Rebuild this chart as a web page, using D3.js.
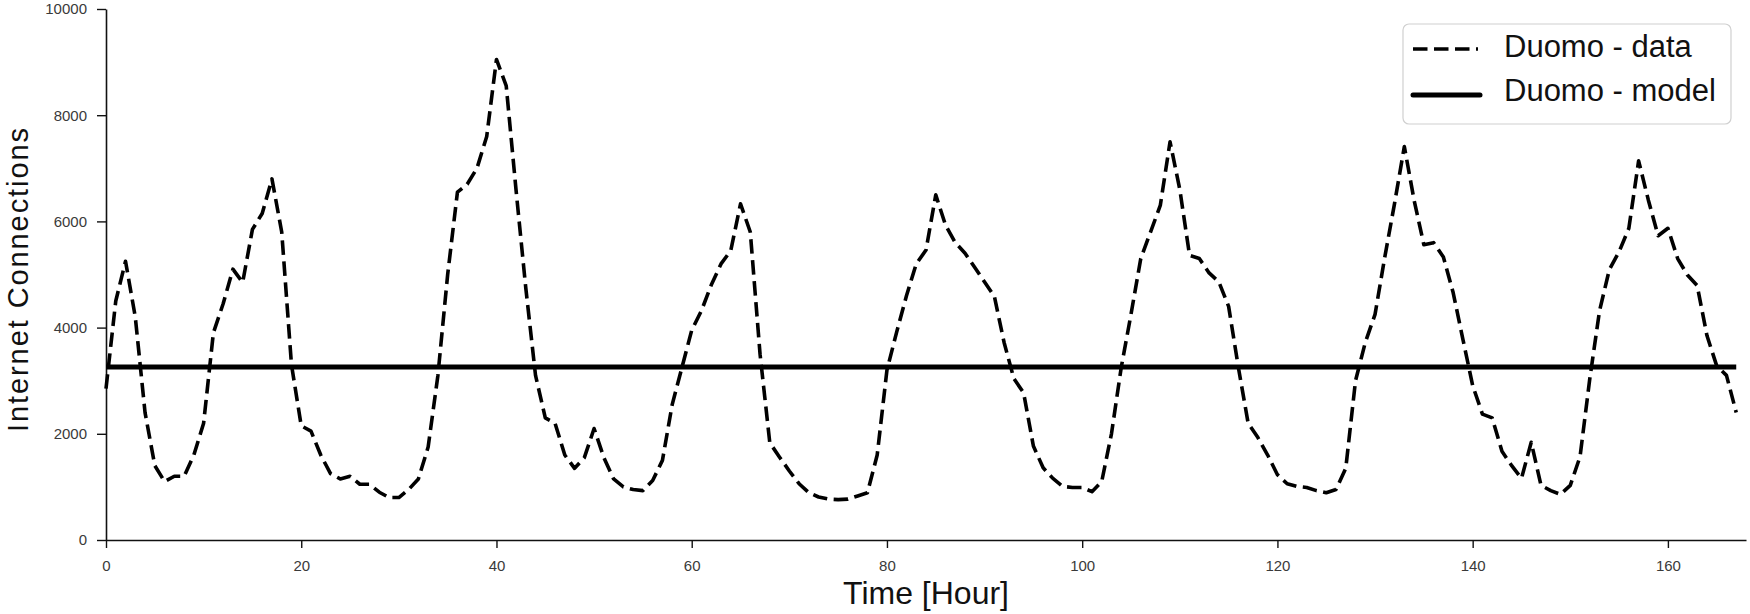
<!DOCTYPE html>
<html><head><meta charset="utf-8">
<script src="https://cdn.jsdelivr.net/npm/d3@7"></script>
<style>
body{margin:0;background:#fff;}
svg{display:block;font-family:"Liberation Sans",Arial,Helvetica,sans-serif;}
</style>
</head><body>
<svg id="chart" width="1750" height="614"></svg>
<script>
// ---- data ----
const connections = [
  2850, 4500, 5250, 4200, 2400, 1400, 1100, 1200, 1200, 1600,
  2200, 3900, 4450, 5100, 4850, 5850, 6150, 6800, 5800, 3300,
  2150, 2050, 1600, 1250, 1150, 1200, 1050, 1050, 900, 800,
  800, 950, 1150, 1750, 3100, 5000, 6550, 6700, 7000, 7600,
  9050, 8550, 6600, 4750, 3100, 2300, 2200, 1600, 1350, 1550,
  2100, 1550, 1150, 1000, 950, 930, 1120, 1500, 2550, 3250,
  3950, 4320, 4800, 5200, 5450, 6330, 5800, 3500, 1830, 1560,
  1300, 1060, 890, 810, 770, 760, 770, 830, 890, 1600,
  3200, 3920, 4600, 5200, 5460, 6500, 5930, 5600, 5400, 5130,
  4860, 4590, 3720, 3040, 2770, 1770, 1360, 1160, 1010, 990,
  990, 910, 1100, 2000, 3250, 4250, 5300, 5800, 6300, 7500,
  6600, 5360, 5300, 5030, 4860, 4400, 3250, 2200, 1930, 1600,
  1230, 1060, 1010, 990, 930, 890, 950, 1350, 3000, 3720,
  4250, 5330, 6340, 7410, 6400, 5560, 5600, 5330, 4660, 3780,
  2910, 2370, 2300, 1670, 1400, 1160, 1840, 1030, 930, 860,
  1030, 1570, 3040, 4320, 5090, 5430, 5870, 7140, 6400, 5730,
  5870, 5300, 4990, 4790, 3850, 3280, 3100, 2400
];
const hours = connections.map((d, i) => i);
const modelLevel = [3260, 3260];
const modelHours = [0, 167];
const xTicks = [0, 20, 40, 60, 80, 100, 120, 140, 160];
const yTicks = [0, 2000, 4000, 6000, 8000, 10000];
const seriesNames = ["Duomo - data", "Duomo - model"];
const xTitle = "Time [Hour]";
const yTitle = "Internet Connections";

// ---- chart ----
const svg = d3.select("#chart");
const x = d3.scaleLinear().domain([0, 168]).range([106, 1746]);
const y = d3.scaleLinear().domain([0, 10000]).range([540, 9]);
const fmt = d3.format("d");

const gx = svg.append("g").attr("transform", "translate(0,540)")
  .call(d3.axisBottom(x).tickValues(xTicks).tickFormat(fmt).tickSize(8).tickSizeOuter(0).tickPadding(12));
const gy = svg.append("g").attr("transform", "translate(106,0)")
  .call(d3.axisLeft(y).tickValues(yTicks).tickFormat(fmt).tickSize(9).tickSizeOuter(0).tickPadding(10));
[gx, gy].forEach(g => {
  g.select(".domain").attr("stroke", "#111").attr("stroke-width", 1.6);
  g.selectAll(".tick line").attr("stroke", "#111").attr("stroke-width", 1.4);
  g.selectAll(".tick text").attr("fill", "#3a3a3a").attr("font-size", 15)
    .attr("font-family", '"Liberation Sans",Arial,sans-serif');
});

// model line
svg.append("path")
  .datum(modelHours.map((h, i) => [h, modelLevel[i]]))
  .attr("fill", "none").attr("stroke", "#000").attr("stroke-width", 5)
  .attr("d", d3.line().x(d => x(d[0])).y(d => y(d[1])));

// data line
svg.append("path")
  .datum(hours.map((h, i) => [h, connections[i]]))
  .attr("fill", "none").attr("stroke", "#000").attr("stroke-width", 3.6)
  .attr("stroke-dasharray", "14.5,6.5").attr("stroke-linejoin", "round")
  .attr("d", d3.line().x(d => x(d[0])).y(d => y(d[1])));

// axis titles
svg.append("text").attr("x", 926).attr("y", 604).attr("text-anchor", "middle")
  .attr("font-size", 32).attr("fill", "#111").text(xTitle);
svg.append("text").attr("transform", "translate(28,280) rotate(-90)")
  .attr("text-anchor", "middle").attr("font-size", 29).attr("fill", "#111")
  .attr("textLength", 304).attr("lengthAdjust", "spacing").text(yTitle);

// legend
const lg = svg.append("g");
lg.append("rect").attr("x", 1403).attr("y", 24).attr("width", 328).attr("height", 100)
  .attr("rx", 6).attr("fill", "#fff").attr("fill-opacity", 0.85)
  .attr("stroke", "#d0d0d0").attr("stroke-width", 1.2);
lg.append("line").attr("x1", 1413).attr("x2", 1478).attr("y1", 49).attr("y2", 49)
  .attr("stroke", "#000").attr("stroke-width", 3.6).attr("stroke-dasharray", "14.5,6.5");
lg.append("line").attr("x1", 1413).attr("x2", 1480).attr("y1", 95).attr("y2", 95)
  .attr("stroke", "#000").attr("stroke-width", 5).attr("stroke-linecap", "round");
lg.selectAll("text.leg").data(seriesNames).enter().append("text").attr("class", "leg")
  .attr("x", 1504).attr("y", (d, i) => 57 + i * 44)
  .attr("font-size", 31).attr("fill", "#111").text(d => d);
</script>
</body></html>
